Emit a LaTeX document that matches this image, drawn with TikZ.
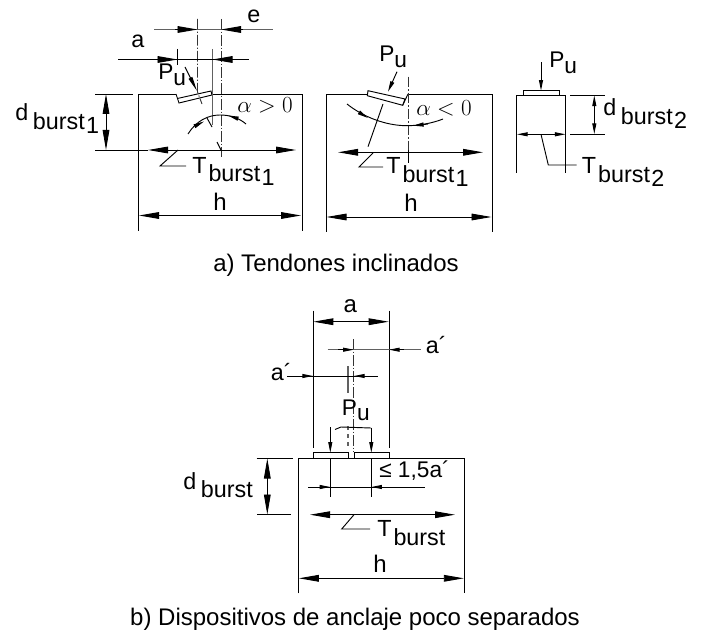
\documentclass[tikz,border=0pt]{standalone}
\usepackage{fontspec}
\setmainfont{Liberation Sans}
\usetikzlibrary{arrows.meta}
\newcommand\sbt[3]{#1\kern #3\raisebox{-6.6pt}{burst\kern 1pt\raisebox{-3pt}{#2}}}
\newcommand\pu{P\raisebox{-4pt}{u}}
\tikzset{
  ln/.style={line width=0.7pt,black},
  gl/.style={line width=0.8pt,black!62},
  axis/.style={line width=0.7pt,black!80,dash pattern=on 8pt off 1.5pt on 1pt off 1.5pt},
  big/.style={ln,{Triangle[length=15pt,width=5pt]}-{Triangle[length=15pt,width=5pt]}},
  bigr/.style={ln,-{Triangle[length=15pt,width=5pt]}},
  small/.style={ln,-{Triangle[length=8pt,width=3pt]}},
  smalls/.style={ln,{Triangle[length=8pt,width=3pt]}-{Triangle[length=8pt,width=3pt]}},
  lab/.style={inner sep=0pt,anchor=base west,font=\fontsize{17.5}{18}\selectfont},
  labp/.style={inner sep=0pt,anchor=base west,font=\fontsize{17}{18}\selectfont},
  labc/.style={inner sep=0pt,anchor=base,font=\fontsize{18}{18}\selectfont},
  captext/.style={inner sep=0pt,anchor=base,font=\fontsize{18}{18}\selectfont},
  greek/.style={inner sep=0pt,anchor=base west,font=\fontsize{16.5}{18}\selectfont},
}
\begin{document}
\begin{tikzpicture}[x=0.75pt,y=-0.75pt]
\useasboundingbox (0,0) rectangle (706,631);
% ---------- figure 1
\draw[ln] (95,94) -- (133,94);
\draw[ln] (176,94) -- (138,94) -- (138,231);
\draw[ln] (212,94) -- (302,94) -- (302,231);
\draw[ln] (176,94) -- (179,103) -- (212,95) -- (211,91) -- (177.3,98.5);
\draw[axis] (197.5,19) -- (197.5,92) -- (202,104);
\draw[axis] (221,19) -- (221,157);
\draw[gl] (212.5,49) -- (212.5,125);
\draw[ln] (177.5,49) -- (177.5,65);
\draw[gl] (154,29.5) -- (273,29.5);
\draw[bigr] (175,29.5) -- (197.5,29.5);
\draw[bigr] (243,29.5) -- (221,29.5);
\draw[ln] (118,59.5) -- (249,59.5);
\draw[bigr] (155,59.5) -- (177.5,59.5);
\draw[bigr] (235,59.5) -- (212.5,59.5);
\draw[ln,-{Triangle[length=11pt,width=3pt]}] (185,67) -- (197,91);
\draw[big] (106,94) -- (106,150);
\draw[ln] (95,150) -- (148,150);
\draw[big] (148,150) -- (296,150);
\draw[ln] (178,150) -- (160,166) -- (186,166);
\draw[ln] (188,134) .. controls (196,121) and (208,115) .. (220,115) .. controls (230,115) and (239,118) .. (246,124);
\draw[small] (197,125) -- (204,121.5);
\draw[small] (236,118) -- (228,115.5);
\draw[ln] (207,118) -- (212,127);
\draw[ln] (217,142) -- (221,150);
\draw[big] (139,215.5) -- (301,215.5);
\node[lab] (e1) at (247,23) {e};
\node[lab] (a1) at (131,48) {a};
\node[labp] (p1) at (158,80) {\pu};
\node[lab] (d1) at (15,121) {\sbt{d}{1}{3.5pt}};
\node[lab] (t1) at (192,173) {\sbt{T}{1}{1.5pt}};
\node[labc] (h1) at (220,210) {h};
\node[greek] (al1) at (237,113) {$\alpha > 0$};
% ---------- figure 2
\draw[ln] (367.5,94) -- (326,94) -- (326,232);
\draw[ln] (408,94) -- (492,94) -- (492,232);
\draw[ln] (368,90.7) -- (405,99) -- (402.7,105.3) -- (367.3,95.7) -- cycle;
\draw[ln] (402.7,105.3) -- (408,94);
\draw[axis] (408.3,76.7) -- (408.3,150);
\draw[ln] (408.3,150) -- (408.3,163);
\draw[ln] (383,104) -- (368,146.7);
\draw[small] (397,71.7) -- (388,91.7);
\draw[ln] (347,104) .. controls (362,116) and (385,126) .. (408,125.7) .. controls (420,125.5) and (433,123) .. (443,119);
\draw[small] (360,113) -- (368,118);
\draw[small] (428,124) -- (413,125.7);
\draw[big] (338,152.3) -- (483,152.3);
\draw[ln] (373,153) -- (359,167) -- (383,167);
\draw[big] (326.5,217) -- (491.5,217);
\node[labp] (p2) at (379,62) {\pu};
\node[lab] (t2) at (386,174) {\sbt{T}{1}{1.5pt}};
\node[labc] (h2) at (411,211) {h};
\node[greek] (al2) at (416,116) {$\alpha < 0$};
% ---------- figure 3
\draw[ln] (516.7,172.7) -- (516.7,95) -- (565.7,95) -- (565.7,172.7);
\draw[ln] (523.3,95) -- (523.3,90.7) -- (559.3,90.7) -- (559.3,95);
\draw[small] (541,62.3) -- (541,90.7);
\draw[ln] (570,95) -- (605,95);
\draw[ln] (570,134.3) -- (605,134.3);
\draw[smalls] (594.3,95.5) -- (594.3,134);
\draw[smalls] (517,134.3) -- (565.5,134.3);
\draw[ln] (541,134.3) -- (548.3,165) -- (576.7,165);
\node[labp] (p3) at (549,68) {\pu};
\node[lab] (d3) at (603,116) {\sbt{d}{2}{3.5pt}};
\node[lab] (t3) at (581.7,174) {\sbt{T}{2}{1.5pt}};
% ---------- caption a
\node[captext] (ca) at (336,271) {a) Tendones inclinados};
% ---------- figure 4
\draw[ln] (256.7,458) -- (293.3,458);
\draw[ln] (257,514.7) -- (291,514.7);
\draw[big] (267.3,458.5) -- (267.3,514.5);
\draw[ln] (298.3,593.3) -- (298.3,458.3) -- (464.3,458.3) -- (464.3,593.3);
\draw[ln] (313.3,458) -- (313.3,452.7) -- (348.3,452.7) -- (348.3,458);
\draw[ln] (354,458) -- (354,452.7) -- (389.3,452.7) -- (389.3,458);
\draw[ln] (313,310.7) -- (313,447.7);
\draw[ln] (389,310.7) -- (389,447.7);
\draw[big] (313.3,321.7) -- (388.7,321.7);
\draw[axis] (353.7,339) -- (353.7,452);
\draw[gl] (348,366) -- (348,393);
\draw[gl,dashed] (348,426) -- (348,447);
\draw[gl] (327.7,349.7) -- (421,349.7);
\draw[small] (338,349.7) -- (353.7,349.7);
\draw[small] (404,349.7) -- (389,349.7);
\draw[ln] (287.3,376) -- (378,376);
\draw[small] (298,376) -- (313,376);
\draw[small] (365,376) -- (354,376);
\draw[ln] (335,429.5) -- (341,427) -- (371,428);
\draw[small] (330.3,427) -- (330.3,452.7);
\draw[small] (371.3,428) -- (371.3,452.7);
\draw[ln] (330.3,458.3) -- (330.3,497.3);
\draw[ln] (371.3,458.3) -- (371.3,497.3);
\draw[ln] (308,487) -- (425,487);
\draw[small] (317,487) -- (330.3,487);
\draw[small] (385,487) -- (371.3,487);
\draw[big] (310,514.7) -- (455,514.7);
\draw[ln] (354,514.7) -- (341.7,529) -- (370,529);
\draw[big] (298.8,578.3) -- (463.8,578.3);
\node[labc] (a4) at (350.3,312.7) {a};
\node[lab] (a5) at (425.7,353) {a´};
\node[lab] (a6) at (270.7,380.7) {a´};
\node[labp] (p4) at (341.7,415) {\pu};
\node[labp] (le) at (379,477.7) {≤ 1,5a´};
\node[lab] (d4) at (183,489) {\sbt{d}{}{3.5pt}};
\node[lab] (t4) at (377,536.7) {\sbt{T}{}{1.5pt}};
\node[labc] (h4) at (380,572) {h};
% ---------- caption b
\node[captext] (cb) at (355,625) {b) Dispositivos de anclaje poco separados};
\end{tikzpicture}
\end{document}
